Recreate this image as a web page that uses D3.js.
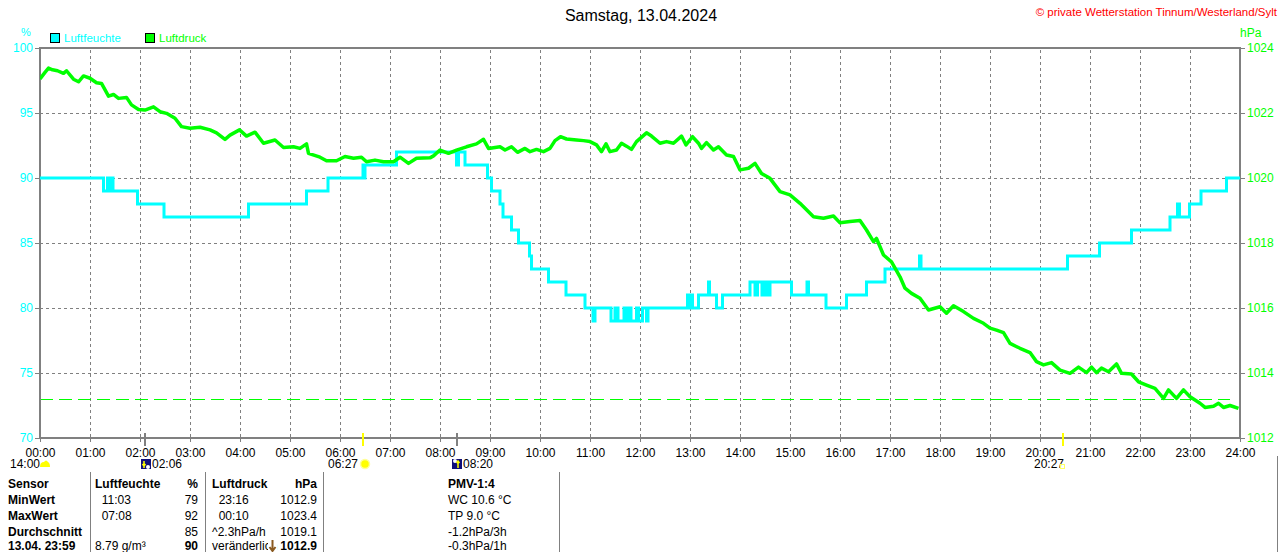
<!DOCTYPE html>
<html><head><meta charset="utf-8">
<script src="https://cdn.jsdelivr.net/npm/d3@7"></script>
<style>
html,body{margin:0;padding:0;background:#fff;overflow:hidden}
svg{display:block;font-family:"Liberation Sans",Arial,sans-serif}
</style></head><body>
<svg id="c" width="1280" height="552"></svg>
<script>
const titleText = "Samstag, 13.04.2024";
const copyrightText = "\u00A9 private Wetterstation Tinnum/Westerland/Sylt";
const hourTicks = d3.range(0, 25);
const humidityTicks = [70, 75, 80, 85, 90, 95, 100];
const pressureTicks = [1012, 1014, 1016, 1018, 1020, 1022, 1024];
const pressureRef = 1013.2;

// humidity [hour, %] (step after)
const humidity = [
 [0,90],[1.27,89],[1.35,90],[1.37,89],[1.43,90],[1.46,89],[1.95,88],[2.48,87],[4.17,88],[5.33,89],[5.76,90],
 [6.46,91],[6.48,90],[6.5,91],[7.13,92],[8.33,91],[8.37,92],[8.5,91],[8.95,90],[9.03,89],[9.2,88],[9.26,87],
 [9.43,86],[9.57,85],[9.79,84],[9.83,83],[10.17,82],[10.52,81],[10.9,80],[11.06,79],[11.1,80],[11.42,79],
 [11.5,80],[11.56,79],[11.68,80],[11.72,79],[11.78,80],[11.82,79],[11.93,80],[11.97,79],[12.05,80],[12.13,79],
 [12.16,80],[12.95,81],[12.98,80],[13.01,81],[13.05,80],[13.17,81],[13.37,82],[13.39,81],[13.53,80],[13.65,81],
 [14.2,82],[14.3,81],[14.35,82],[14.44,81],[14.5,82],[14.55,81],[14.6,82],[15.03,81],[15.34,82],[15.37,81],
 [15.72,80],[16.13,81],[16.53,82],[16.9,83],[17.59,84],[17.62,83],[20.55,84],[21.19,85],[21.83,86],
 [22.6,87],[22.75,88],[22.79,87],[22.99,88],[23.22,89],[23.73,90],[24,90]
];

// pressure [hour, hPa]
const pressure = [
 [0,1023.05],[0.1,1023.25],[0.17,1023.38],[0.25,1023.33],[0.35,1023.3],[0.47,1023.22],[0.53,1023.3],[0.67,1023.04],
 [0.77,1022.96],[0.87,1023.14],[1,1023.07],[1.13,1022.93],[1.23,1022.91],[1.37,1022.52],[1.47,1022.57],[1.57,1022.45],
 [1.73,1022.48],[1.83,1022.25],[1.97,1022.11],[2.1,1022.09],[2.27,1022.19],[2.4,1022.04],[2.53,1021.99],[2.7,1021.84],
 [2.83,1021.58],[3,1021.53],[3.2,1021.56],[3.4,1021.48],[3.53,1021.39],[3.7,1021.19],[3.8,1021.32],[3.99,1021.48],
 [4.13,1021.29],[4.3,1021.41],[4.47,1021.07],[4.7,1021.17],[4.87,1020.94],[5.07,1020.96],[5.2,1020.91],[5.33,1021.05],
 [5.37,1020.76],[5.6,1020.64],[5.73,1020.53],[5.93,1020.53],[6.1,1020.66],[6.27,1020.61],[6.43,1020.64],[6.53,1020.5],
 [6.7,1020.55],[6.87,1020.5],[7.07,1020.5],[7.2,1020.64],[7.37,1020.45],[7.53,1020.61],[7.8,1020.62],[7.87,1020.68],
 [8,1020.86],[8.17,1020.76],[8.33,1020.86],[8.53,1020.96],[8.73,1021.05],[8.87,1021.19],[8.97,1020.91],[9.2,1020.96],
 [9.3,1020.86],[9.43,1020.96],[9.55,1020.79],[9.7,1020.91],[9.8,1020.81],[9.93,1020.88],[10.07,1020.81],[10.2,1020.91],
 [10.3,1021.15],[10.41,1021.27],[10.53,1021.2],[10.73,1021.17],[10.87,1021.15],[11,1021.12],[11.13,1021.02],[11.23,1020.81],
 [11.32,1021.05],[11.4,1020.81],[11.53,1020.86],[11.63,1021.07],[11.73,1020.98],[11.83,1020.88],[11.93,1021.12],[12.13,1021.39],
 [12.23,1021.29],[12.4,1021.07],[12.53,1021.12],[12.67,1021.07],[12.83,1021.29],[12.92,1021.02],[13.05,1021.27],[13.17,1021.07],
 [13.23,1020.91],[13.33,1021.09],[13.47,1020.86],[13.57,1020.96],[13.73,1020.71],[13.87,1020.66],[14,1020.25],[14.17,1020.3],
 [14.3,1020.45],[14.43,1020.14],[14.6,1019.99],[14.8,1019.58],[15,1019.48],[15.2,1019.22],[15.47,1018.81],[15.67,1018.76],
 [15.87,1018.83],[16,1018.62],[16.2,1018.66],[16.4,1018.69],[16.53,1018.4],[16.67,1018.04],[16.73,1018.14],[16.87,1017.63],
 [17.03,1017.42],[17.2,1016.96],[17.3,1016.61],[17.43,1016.45],[17.6,1016.3],[17.77,1015.94],[18,1016.04],[18.13,1015.84],
 [18.27,1016.07],[18.47,1015.89],[18.67,1015.68],[18.87,1015.53],[19,1015.38],[19.13,1015.32],[19.27,1015.24],[19.4,1014.91],
 [19.6,1014.76],[19.8,1014.63],[19.93,1014.35],[20.07,1014.25],[20.23,1014.32],[20.4,1014.09],[20.6,1013.99],[20.77,1014.18],
 [20.93,1014.01],[21.03,1014.18],[21.13,1014.01],[21.23,1014.15],[21.37,1014.04],[21.53,1014.28],[21.63,1013.99],[21.83,1013.97],
 [21.97,1013.73],[22.13,1013.63],[22.3,1013.53],[22.47,1013.22],[22.57,1013.48],[22.73,1013.22],[22.87,1013.48],[23,1013.27],
 [23.2,1013.07],[23.3,1012.94],[23.47,1012.98],[23.57,1013.07],[23.67,1012.94],[23.8,1013.0],[23.97,1012.91]
];

// astro markers: [hour, label, kind]
const astroMarkers = [
 [2.1, "02:06", "moonrise"],
 [6.45, "06:27", "sunrise"],
 [8.333, "08:20", "moonset"],
 [20.45, "20:27", "sunset"]
];

// table
const tableCol1 = ["Sensor","MinWert","MaxWert","Durchschnitt","13.04. 23:59"];
const tableHumTime = ["Luftfeuchte","  11:03","  07:08","","8.79 g/m\u00B3"];
const tableHumVal = ["%","79","92","85","90"];
const tablePresTime = ["Luftdruck","  23:16","  00:10","^2.3hPa/h","ver\u00E4nderlich"];
const tablePresVal = ["hPa","1012.9","1023.4","1019.1","1012.9"];
const tablePmv = ["PMV-1:4","WC 10.6 \u00B0C","TP 9.0 \u00B0C","-1.2hPa/3h","-0.3hPa/1h"];

const svg = d3.select("#c");
const L = 40, R = 1240, T = 48, B = 438;
const x = d3.scaleLinear().domain([0, 24]).range([L, R]);
const yH = d3.scaleLinear().domain([70, 100]).range([B, T]);
const yP = d3.scaleLinear().domain([1012, 1024]).range([B, T]);
const GRAY = "#808080", CYAN = "#00ffff", GREEN = "#00ff00";

// title & copyright
svg.append("text").attr("x", 641).attr("y", 21).attr("text-anchor", "middle")
  .attr("font-size", 16).attr("fill", "#000").text(titleText);
svg.append("text").attr("x", 1277).attr("y", 16).attr("text-anchor", "end")
  .attr("font-size", 11.5).attr("fill", "#ff0000").text(copyrightText);

// unit labels
svg.append("text").attr("x", 26).attr("y", 36).attr("text-anchor", "middle").attr("font-size", 11).attr("fill", CYAN).text("%");
svg.append("text").attr("x", 1240).attr("y", 37).attr("font-size", 12).attr("fill", GREEN).text("hPa");

// legend
const legend = [["Luftfeuchte", CYAN, 50], ["Luftdruck", GREEN, 145]];
legend.forEach(([t, c, lx]) => {
  svg.append("rect").attr("x", lx + 0.5).attr("y", 33.5).attr("width", 9).attr("height", 9).attr("fill", c).attr("stroke", "#000");
  svg.append("text").attr("x", lx + 14).attr("y", 42).attr("font-size", 11.5).attr("fill", c).text(t);
});

// grid
const grid = svg.append("g").attr("stroke", GRAY).attr("stroke-width", 1).attr("stroke-dasharray", "3,3");
hourTicks.filter(h => h > 0 && h < 24).forEach(h => {
  grid.append("line").attr("x1", x(h) + 0.5).attr("x2", x(h) + 0.5).attr("y1", T + 2).attr("y2", B);
});
humidityTicks.filter(v => v > 70 && v < 100).forEach(v => {
  grid.append("line").attr("x1", L).attr("x2", R).attr("y1", yH(v) + 0.5).attr("y2", yH(v) + 0.5);
});

// reference line
svg.append("line").attr("x1", L).attr("x2", 1230).attr("y1", Math.round(yP(pressureRef)) + 0.5).attr("y2", Math.round(yP(pressureRef)) + 0.5)
  .attr("stroke", GREEN).attr("stroke-width", 1).attr("stroke-dasharray", "13,6");

// axes
const axL = d3.axisLeft(yH).tickValues(humidityTicks).tickSize(5).tickPadding(2);
const gL = svg.append("g").attr("transform", `translate(${L},0)`).call(axL);
gL.select(".domain").remove();
gL.selectAll("line").attr("stroke", GRAY);
gL.selectAll("text").attr("fill", CYAN).attr("font-size", 12).attr("font-family", "Liberation Sans, Arial");

const axR = d3.axisRight(yP).tickValues(pressureTicks).tickSize(5).tickPadding(2).tickFormat(d3.format("d"));
const gR = svg.append("g").attr("transform", `translate(${R},0)`).call(axR);
gR.select(".domain").remove();
gR.selectAll("line").attr("stroke", GRAY);
gR.selectAll("text").attr("fill", GREEN).attr("font-size", 12).attr("font-family", "Liberation Sans, Arial");

const axB = d3.axisBottom(x).tickValues(hourTicks).tickSize(4).tickPadding(6)
  .tickFormat(h => String(h).padStart(2, "0") + ":00");
const gB = svg.append("g").attr("transform", `translate(0,${B})`).call(axB);
gB.select(".domain").remove();
gB.selectAll("line").attr("stroke", GRAY);
gB.selectAll("text").attr("fill", "#000").attr("font-size", 12).attr("font-family", "Liberation Sans, Arial");

// frame
svg.append("path").attr("d", `M${L},${B}V${T}H${R}V${B}H${L}`).attr("fill", "none").attr("stroke", GRAY).attr("stroke-width", 2);

// series
svg.append("clipPath").attr("id", "pc").append("rect").attr("x", L).attr("y", T - 3).attr("width", R - L).attr("height", B - T + 3);
svg.append("path").datum(humidity)
  .attr("d", d3.line().x(d => x(d[0])).y(d => yH(d[1])).curve(d3.curveStepAfter))
  .attr("fill", "none").attr("stroke", CYAN).attr("stroke-width", 3).attr("clip-path", "url(#pc)");
svg.append("path").datum(pressure)
  .attr("d", d3.line().x(d => x(d[0])).y(d => yP(d[1])))
  .attr("fill", "none").attr("stroke", GREEN).attr("stroke-width", 3.5).attr("stroke-linejoin", "round").attr("clip-path", "url(#pc)");

// astro markers
astroMarkers.forEach(([h, lbl, kind]) => {
  const mx = Math.round(x(h));
  const isSun = kind.startsWith("sun");
  svg.append("line").attr("x1", mx).attr("x2", mx).attr("y1", 433).attr("y2", 446)
    .attr("stroke", isSun ? "#ffff00" : GRAY).attr("stroke-width", 2);
  const g = svg.append("g");
  if (kind === "moonrise" || kind === "moonset") {
    const ix = kind === "moonrise" ? mx - 4 : mx - 5;
    g.append("rect").attr("x", ix).attr("y", 459).attr("width", 10).attr("height", 10).attr("fill", "#10107a");
    g.append("circle").attr("cx", kind === "moonrise" ? ix + 7 : ix + 3).attr("cy", kind === "moonrise" ? 467 : 461).attr("r", 2).attr("fill", "#fff");
    g.append("path").attr("d", kind === "moonrise" ? `M${ix+3},461V468M${ix+1.5},464L${ix+3},466L${ix+4.5},464` : `M${ix+6},461V468M${ix+4.5},463L${ix+6},461L${ix+7.5},463`)
      .attr("stroke", "#ffff00").attr("stroke-width", 1.5).attr("fill", "none");
    g.append("text").attr("x", ix + 11).attr("y", 468).attr("font-size", 12).attr("fill", "#000").text(lbl);
  } else if (kind === "sunrise") {
    g.append("text").attr("x", mx - 5).attr("y", 468).attr("text-anchor", "end").attr("font-size", 12).attr("fill", "#000").text(lbl);
    g.append("circle").attr("cx", mx + 2).attr("cy", 464).attr("r", 4.5).attr("fill", "#ffff00").attr("stroke", "#ffff99").attr("stroke-width", 1.5);
  } else {
    g.append("text").attr("x", mx - 14).attr("y", 468).attr("text-anchor", "middle").attr("font-size", 12).attr("fill", "#000").text(lbl);
    g.append("rect").attr("x", mx - 2.5).attr("y", 464.5).attr("width", 4).attr("height", 4).attr("fill", "none").attr("stroke", "#ffff66");
  }
});
// "14:00" current marker with cloud
svg.append("text").attr("x", 10).attr("y", 468).attr("font-size", 12).attr("fill", "#000").text("14:00");
svg.append("path").attr("d", "M40,467 Q40,462 44,462 Q46,459 48,462 Q50,463 50,467 Z").attr("fill", "#ffff00");

// table
const rowY = [488, 504, 520, 536, 550];
const sep = svg.append("g").attr("stroke", GRAY).attr("stroke-width", 1);
[90.5, 205.5, 323.5, 559.5].forEach(sx => sep.append("line").attr("x1", sx).attr("x2", sx).attr("y1", 472).attr("y2", 552));
sep.append("line").attr("x1", 1277.5).attr("x2", 1277.5).attr("y1", 456).attr("y2", 552);

function col(arr, tx, anchor, boldRows) {
  arr.forEach((t, i) => {
    svg.append("text").attr("x", tx).attr("y", rowY[i]).attr("text-anchor", anchor)
      .attr("font-size", 12).attr("font-weight", boldRows.includes(i) ? "bold" : "normal")
      .attr("fill", "#000").attr("xml:space", "preserve").style("white-space", "pre").text(t);
  });
}
col(tableCol1, 8, "start", [0, 1, 2, 3, 4]);
col(tableHumTime, 95, "start", [0]);
col(tableHumVal, 198, "end", [0, 4]);
col(tablePresTime, 212, "start", [0]);
col(tablePresVal, 317, "end", [0, 4]);
col(tablePmv, 448, "start", [0]);
// trend arrow icon over "veränderlich"
svg.append("rect").attr("x", 268).attr("y", 539).attr("width", 9).attr("height", 13).attr("fill", "#fff");
svg.append("path").attr("d", "M272.5,540V550M269.5,547L272.5,551L275.5,547").attr("stroke", "#8a5a20").attr("stroke-width", 2).attr("fill", "none");
</script>
</body></html>
